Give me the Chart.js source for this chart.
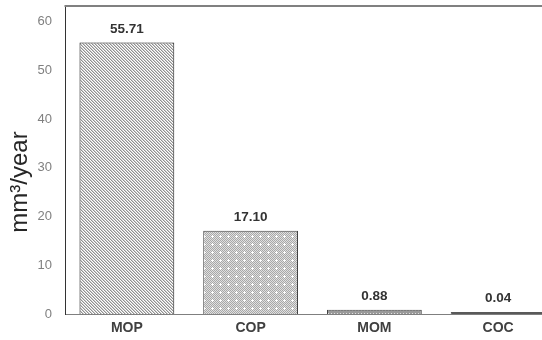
<!DOCTYPE html>
<html>
<head>
<meta charset="utf-8">
<script src="https://cdn.jsdelivr.net/npm/chart.js@4/dist/chart.umd.min.js"></script>
<style>
    html, body { margin: 0; padding: 0; background: #fff; overflow: hidden; }
    #wrap { width: 580px; height: 340px; }
</style>
</head>
<body>
<div id="wrap"><canvas id="chart"></canvas></div>
<script>
const categories = ['MOP', 'COP', 'MOM', 'COC'];
const values = [55.71, 17.10, 0.88, 0.04];
const valueLabels = ['55.71', '17.10', '0.88', '0.04'];
const yTicks = [0, 10, 20, 30, 40, 50, 60];
const yTitle = 'mm³/year';

// small tiles for the hatch fills
function makePattern(size, paint) {
    const c = document.createElement('canvas');
    c.width = size;
    c.height = size;
    const g = c.getContext('2d');
    for (let y = 0; y < size; y++) {
        for (let x = 0; x < size; x++) {
            g.fillStyle = paint(x, y);
            g.fillRect(x, y, 1, 1);
        }
    }
    return g.createPattern(c, 'repeat');
}

const diag = makePattern(3, (x, y) => {
    const d = (x - y + 6) % 3;
    return d === 0 ? '#909090' : d === 1 ? '#cccccc' : '#ffffff';
});
const cross = makePattern(8, (x, y) => {
    if ((x === 4 && y >= 3 && y <= 5) || (y === 4 && x >= 3 && x <= 5)) return '#ffffff';
    return (x + y) % 2 === 0 ? '#a8a8a8' : '#e0e0e0';
});
const small = makePattern(3, (x, y) => {
    if (x === 1 && y === 1) return '#e0e0e0';
    return '#9a9a9a';
});

const fills = [diag, cross, small, '#595959'];
const borders = ['#1a1a1a', '#404040', '#404040', '#595959'];

const extras = {
    id: 'extras',
    afterDatasetsDraw(chart) {
        const ctx = chart.ctx;
        const area = chart.chartArea;
        // top frame line
        ctx.save();
        ctx.strokeStyle = '#808080';
        ctx.lineWidth = 2;
        ctx.beginPath();
        ctx.moveTo(area.left - 0.5, area.top);
        ctx.lineTo(chart.width, area.top);
        ctx.stroke();

        // value labels above bars
        ctx.fillStyle = '#333333';
        ctx.font = 'bold 13.5px "Liberation Sans", Arial, sans-serif';
        ctx.textAlign = 'center';
        ctx.textBaseline = 'alphabetic';
        chart.getDatasetMeta(0).data.forEach((bar, i) => {
            ctx.fillText(valueLabels[i], bar.x, Math.min(bar.y, bar.base - 2) - 10);
        });

        // y title
        ctx.translate(20, (area.top + area.bottom) / 2 + 22);
        ctx.rotate(-Math.PI / 2);
        ctx.fillStyle = '#262626';
        ctx.font = '24px "Liberation Sans", Arial, sans-serif';
        ctx.textBaseline = 'middle';
        ctx.fillText(yTitle, 0, 0);
        ctx.restore();
    }
};

new Chart(document.getElementById('chart'), {
    type: 'bar',
    data: {
        labels: categories,
        datasets: [{
            data: values,
            backgroundColor: fills,
            borderColor: borders,
            borderWidth: 1,
            minBarLength: 2,
            barPercentage: 0.766,
            categoryPercentage: 1
        }]
    },
    options: {
        responsive: true,
        maintainAspectRatio: false,
        animation: false,
        layout: { padding: { top: 6, right: 20, left: 0, bottom: 0 } },
        plugins: {
            legend: { display: false },
            tooltip: { enabled: false }
        },
        scales: {
            x: {
                grid: { display: false, drawTicks: false, tickLength: 0 },
                border: { color: '#7f7f7f', width: 1 },
                ticks: {
                    color: '#404040',
                    padding: 6,
                    font: { family: '"Liberation Sans", Arial, sans-serif', size: 14, weight: 'bold' }
                },
                afterFit(scale) {
                    scale.height = 26;
                    scale.paddingLeft = 0;
                    scale.paddingRight = 0;
                }
            },
            y: {
                min: 0,
                max: 63.2,
                grid: { display: false, drawTicks: false, tickLength: 0 },
                border: { color: '#333333', width: 1 },
                ticks: {
                    color: '#808080',
                    padding: 13,
                    font: { family: '"Liberation Sans", Arial, sans-serif', size: 13 }
                },
                afterBuildTicks(scale) {
                    scale.ticks = yTicks.map(v => ({ value: v }));
                },
                afterFit(scale) {
                    scale.width = 65;
                    scale.paddingTop = 0;
                    scale.paddingBottom = 0;
                }
            }
        }
    },
    plugins: [extras]
});
</script>
</body>
</html>
